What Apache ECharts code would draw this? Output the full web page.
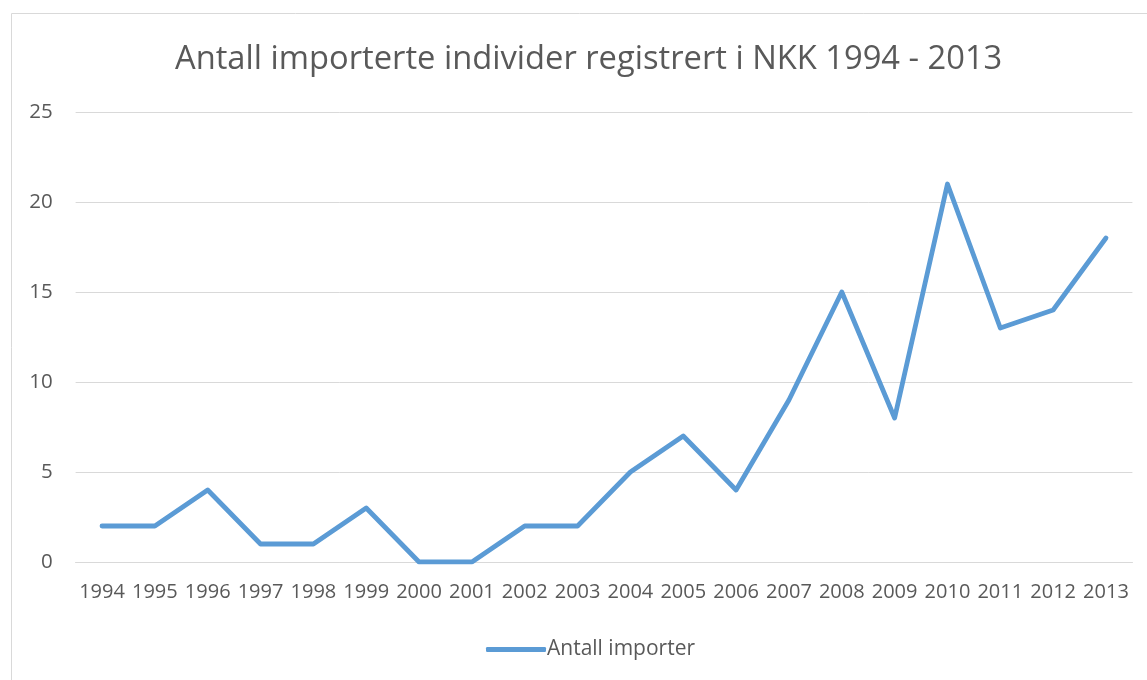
<!DOCTYPE html>
<html>
<head>
  <meta charset="UTF-8">
  <title>Antall importerte individer</title>
  <style>
    body { margin: 0; background: #fff; }
    #main { width: 1147px; height: 680px; }
  </style>
</head>
<body>
  <div id="main"></div>
  <script src="https://cdn.jsdelivr.net/npm/echarts@6/dist/echarts.min.js"></script>
  <script>
    const years = ['1994', '1995', '1996', '1997', '1998', '1999', '2000', '2001', '2002', '2003',
                   '2004', '2005', '2006', '2007', '2008', '2009', '2010', '2011', '2012', '2013'];
    const imports = [2, 2, 4, 1, 1, 3, 0, 0, 2, 2, 5, 7, 4, 9, 15, 8, 21, 13, 14, 18];
    const seriesName = 'Antall importer';

    const textColor = '#595959';
    const font = '"Open Sans", sans-serif';

    const myChart = echarts.init(document.getElementById('main'));

    myChart.setOption({
      animation: false,
      graphic: [{
        type: 'rect',
        shape: { x: 11.5, y: 13.5, width: 1200, height: 720 },
        style: { fill: 'none', stroke: '#d9d9d9', lineWidth: 1 },
        silent: true
      }],
      title: {
        text: 'Antall importerte individer registrert i NKK 1994 - 2013',
        left: 170,
        top: 38,
        textStyle: { color: textColor, fontFamily: font, fontSize: 32.7, fontWeight: 'normal' }
      },
      legend: {
        data: [seriesName],
        left: 481,
        top: 634,
        icon: 'roundRect',
        itemWidth: 60,
        itemHeight: 5,
        textStyle: { color: textColor, fontFamily: font, fontSize: 21, padding: [0, 0, 0, -4] }
      },
      grid: { left: 75.6, right: 14.6, top: 112, bottom: 118 },
      xAxis: {
        type: 'category',
        data: years,
        boundaryGap: true,
        axisLine: { lineStyle: { color: '#d9d9d9', width: 1 } },
        axisTick: { show: false },
        axisLabel: { color: textColor, fontFamily: font, fontSize: 20, margin: 20, interval: 0 }
      },
      yAxis: {
        type: 'value',
        min: 0,
        max: 25,
        interval: 5,
        axisLine: { show: false },
        axisTick: { show: false },
        splitLine: { lineStyle: { color: '#d9d9d9', width: 1 } },
        axisLabel: { color: textColor, fontFamily: font, fontSize: 20.5, margin: 23 }
      },
      series: [{
        name: seriesName,
        type: 'line',
        data: imports,
        symbol: 'none',
        lineStyle: { color: '#5b9bd5', width: 4.8, cap: 'round', join: 'round' },
        itemStyle: { color: '#5b9bd5' }
      }]
    });
  </script>
</body>
</html>
